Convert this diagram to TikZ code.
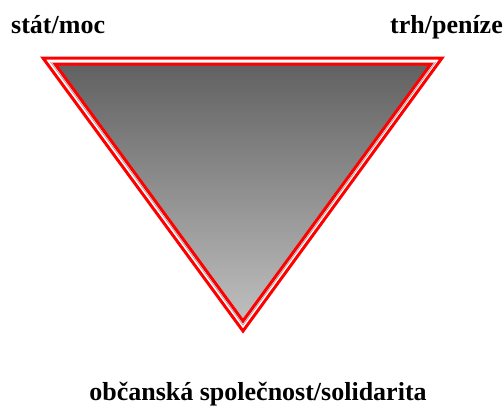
\documentclass[tikz,border=0pt]{standalone}
\usepackage{fontspec}
\setmainfont{Liberation Serif}
\begin{document}
\begin{tikzpicture}[x=1bp,y=-1bp,
    label/.style={font=\fontsize{26bp}{30bp}\selectfont\bfseries, inner sep=0pt, anchor=base},
    rim/.style={red, line width=3bp, line join=miter}]
  \useasboundingbox (0,0) rectangle (503,405);
  \coordinate (oA) at (43,58);
  \coordinate (oB) at (442,58);
  \coordinate (oC) at (243,331);
  \coordinate (iA) at (55,64);
  \coordinate (iB) at (431,64);
  \coordinate (iC) at (243,321);
  \shade[top color=black!62, bottom color=black!25] (iA) -- (iB) -- (iC) -- cycle;
  \draw[gray!70, line width=.8bp] (50.5,62) -- (243,325) -- (435.5,62);
  \draw[rim] (iA) -- (iB) -- (iC) -- cycle;
  \draw[rim] (oA) -- (oB) -- (oC) -- cycle;
  \node[label, anchor=base west] (stat) at (11,33) {stát/moc};
  \node[label, anchor=base east] (trh) at (503,33) {trh/peníze};
  \node[label] (obcan) at (258,400) {občanská společnost/solidarita};
\end{tikzpicture}
\end{document}
